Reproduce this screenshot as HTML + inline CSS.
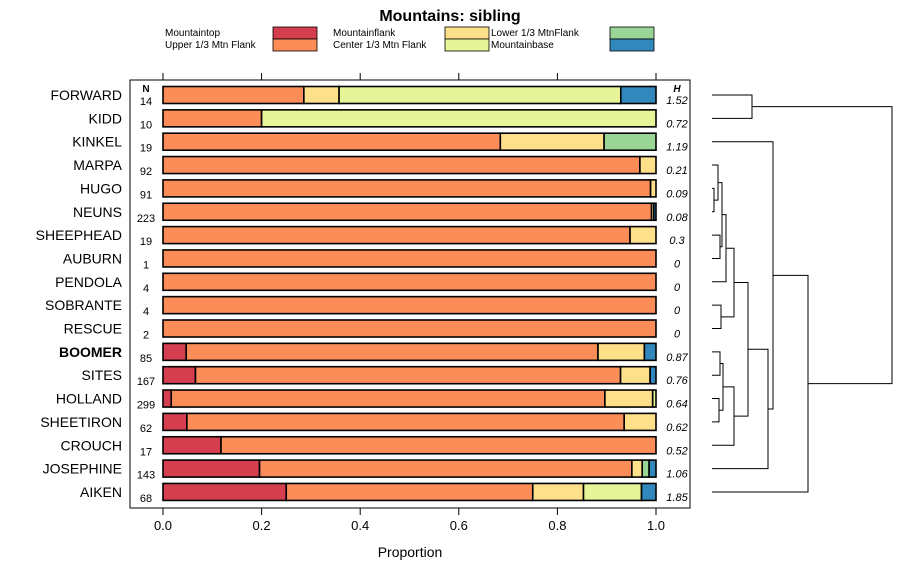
<!DOCTYPE html>
<html><head><meta charset="utf-8"><style>
body{margin:0;background:#fff;}
svg{display:block;font-family:"Liberation Sans",sans-serif;}
</style></head><body>
<svg id="chart" width="900" height="580" xmlns="http://www.w3.org/2000/svg">
<text x="450" y="21" text-anchor="middle" font-size="16" font-weight="bold">Mountains: sibling</text>
<g id="legend" font-size="10"></g>
<rect x="130" y="80" width="560" height="428" fill="none" stroke="#000" stroke-width="1"/>
<g id="bars"></g>
<g id="axes"></g>
<g id="dendro" stroke="#000" stroke-width="1" fill="none"></g>
<text x="410" y="557" text-anchor="middle" font-size="14">Proportion</text>
</svg>
<script>
const sites=["FORWARD","KIDD","KINKEL","MARPA","HUGO","NEUNS","SHEEPHEAD","AUBURN","PENDOLA","SOBRANTE","RESCUE","BOOMER","SITES","HOLLAND","SHEETIRON","CROUCH","JOSEPHINE","AIKEN"];
const nValues=[14,10,19,92,91,223,19,1,4,4,2,85,167,299,62,17,143,68];
const hValues=["1.52","0.72","1.19","0.21","0.09","0.08","0.3","0","0","0","0","0.87","0.76","0.64","0.62","0.52","1.06","1.85"];
const categories=["Mountaintop","Upper 1/3 Mtn Flank","Mountainflank","Center 1/3 Mtn Flank","Lower 1/3 MtnFlank","Mountainbase"];
const colors=["#D53E4F","#FC8D59","#FEE08B","#E6F598","#99D594","#3288BD"];
const mountaintop=[0,0,0,0,0,0,0,0,0,0,0,4,11,5,3,2,28,17];
const upperFlank=[4,2,13,89,90,221,18,1,4,4,2,71,144,263,55,15,108,34];
const mountainflank=[1,0,4,3,1,1,1,0,0,0,0,8,10,29,4,0,3,7];
const centerFlank=[8,8,0,0,0,0,0,0,0,0,0,0,0,2,0,0,0,8];
const lowerFlank=[0,0,2,0,0,0,0,0,0,0,0,0,0,0,0,0,2,0];
const mountainbase=[1,0,0,0,0,1,0,0,0,0,0,2,2,0,0,0,2,2];
const series=[mountaintop,upperFlank,mountainflank,centerFlank,lowerFlank,mountainbase];
const xTicks=[0,0.2,0.4,0.6,0.8,1.0];
const xTickLabels=["0.0","0.2","0.4","0.6","0.8","1.0"];

const NS="http://www.w3.org/2000/svg";
function el(tag,attrs,parent,text){const e=document.createElementNS(NS,tag);for(const k in attrs)e.setAttribute(k,attrs[k]);if(text!==undefined)e.textContent=text;parent.appendChild(e);return e;}
const X=v=>163+v*493;
const Y=i=>95+i*23.35;

// legend
const lg=document.getElementById('legend');
const legPos=[[165,35,273],[165,47,273],[333,35,445],[333,47,445],[491,35,610],[491,47,610]];
categories.forEach((c,k)=>{
  const p=legPos[k];
  const t=el('text',{x:p[0],y:p[1]+1},lg,c);
  
  
  const r=el('rect',{x:p[2],y:p[1]-8,width:44,height:12,fill:colors[k],stroke:'#000','stroke-width':0.8},lg);
  
  
});

// bars
const bg=document.getElementById('bars');
el('text',{x:146,y:92,'text-anchor':'middle','font-size':10,'font-weight':'bold'},bg,'N');
el('text',{x:677,y:92,'text-anchor':'middle','font-size':10,'font-weight':'bold','font-style':'italic'},bg,'H');
sites.forEach((s,i)=>{
  const y=Y(i);
  const lab=el('text',{x:122,y:y+5,'text-anchor':'end','font-size':14,'font-weight':s==="BOOMER"?'bold':'normal'},bg,s);
  
  
  const nt=el('text',{x:146,y:y+10,'text-anchor':'middle','font-size':11},bg,String(nValues[i]));
  
  
  const ht=el('text',{x:677,y:y+9,'text-anchor':'middle','font-size':11,'font-style':'italic'},bg,hValues[i]);
  
  
  let tot=0;series.forEach(a=>tot+=a[i]);
  let cum=0;
  series.forEach((a,k)=>{
    if(a[i]<=0)return;
    const x0=X(cum/tot);cum+=a[i];const x1=X(cum/tot);
    const r=el('rect',{x:x0,y:y-8.5,width:x1-x0,height:17,fill:colors[k],stroke:'#000','stroke-width':1.6},bg);
    
    
  });
});

// axes
const ax=document.getElementById('axes');
xTicks.forEach((v,j)=>{
  el('line',{x1:X(v),x2:X(v),y1:508,y2:515,stroke:'#000'},ax);
  el('line',{x1:X(v),x2:X(v),y1:73,y2:80,stroke:'#000'},ax);
  const t=el('text',{x:X(v),y:530,'text-anchor':'middle','font-size':13},ax,xTickLabels[j]);
  
  
});

// dendrogram: [xLeft node A, yA, xLeft node B, yB, xJoin]
const dg=document.getElementById('dendro');
function join(xa,ya,xb,yb,xj){el('path',{d:`M${xa},${ya}H${xj}V${yb}H${xb}`},dg);return (ya+yb)/2;}
const L=712;
const n1=join(L,Y(4),L,Y(5),714);
const n2=join(L,Y(3),714,n1,718);
const n3=join(L,Y(6),L,Y(7),720);
const n4=join(718,n2,720,n3,722);
const n5=join(722,n4,L,Y(8),726);
const n6=join(L,Y(9),L,Y(10),721);
const n7=join(726,n5,721,n6,734);
const n8=join(L,Y(11),L,Y(12),720);
const n9=join(L,Y(13),L,Y(14),719);
const n10=join(720,n8,719,n9,723);
const n11=join(723,n10,L,Y(15),734);
const n12=join(734,n7,734,n11,748);
const n13=join(748,n12,L,Y(16),768);
const n14=join(L,Y(2),768,n13,773);
const n15=join(773,n14,L,Y(17),808);
const n16=join(L,Y(0),L,Y(1),752);
join(752,n16,808,n15,892);
</script>
</body></html>
